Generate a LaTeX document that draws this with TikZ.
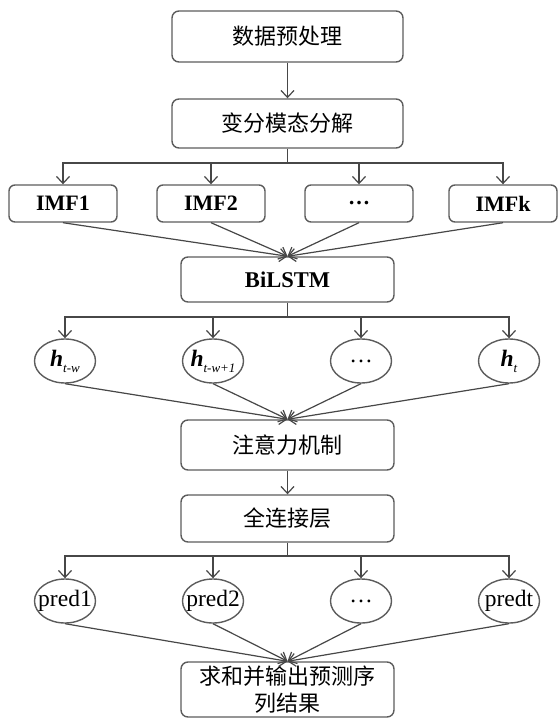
\documentclass[tikz,border=0pt]{standalone}
\usepackage{fontspec}
\setmainfont{Liberation Serif}
\newfontfamily\cjk{Noto Sans CJK SC}
\usetikzlibrary{arrows.meta,shapes.geometric}

\definecolor{linegray}{HTML}{474747}
\definecolor{boxgray}{HTML}{5C5C5C}

\tikzset{
  procbox/.style={draw=boxgray, line width=1.4pt, rounded corners=7pt,
    minimum width=213pt, minimum height=47pt, inner sep=1pt, align=center,
    font=\cjk\fontsize{22}{27}\selectfont},
  imfbox/.style={draw=boxgray, line width=1.4pt, rounded corners=6pt,
    minimum width=108pt, minimum height=37pt, inner sep=0pt,
    font=\bfseries\fontsize{22}{24}\selectfont},
  hnode/.style={draw=boxgray, line width=1.4pt, ellipse,
    minimum width=61pt, minimum height=44pt, inner sep=0pt,
    font=\fontsize{23.5}{24}\selectfont},
  conn/.style={draw=linegray, line width=1.2pt},
}

\begin{document}
\begin{tikzpicture}[x=1pt, y=1pt, >={Straight Barb[length=7pt,width=13pt]}]
    \useasboundingbox (0,0) rectangle (558,-719);

    % Preprocessing and decomposition
    \node (prep) [procbox, minimum width=231pt, minimum height=51pt] at (287.5,-36.5) {数据预处理};
    \node (vmd) [procbox, minimum width=231pt, minimum height=49pt] at (287.5,-123.5) {变分模态分解};
    \coordinate (split1) at (287.5,-163);

    % IMF components
    \node (imf1) [imfbox] at (63,-203.5) {IMF1};
    \node (imf2) [imfbox] at (211,-203.5) {IMF2};
    \node (imfd) [imfbox] at (359,-203.5) {…};
    \node (imfk) [imfbox] at (503,-203.5) {IMFk};

    % BiLSTM and hidden states
    \node (bilstm) [procbox, minimum height=45pt, font=\bfseries\fontsize{22.5}{24}\selectfont] at (287.5,-279.5) {BiLSTM};
    \coordinate (split2) at (287.5,-317);
    \node (h1) [hnode] at (65,-361) {\makebox[0pt]{{\bfseries\itshape h}\raisebox{-6pt}{\itshape\fontsize{13}{13}\selectfont t-w}}};
    \node (h2) [hnode] at (213,-361) {\makebox[0pt]{{\bfseries\itshape h}\raisebox{-6pt}{\itshape\fontsize{13}{13}\selectfont t-w+1}}};
    \node (hd) [hnode] at (361,-361) {\makebox[0pt]{…}};
    \node (ht) [hnode] at (509,-361) {\makebox[0pt]{{\bfseries\itshape h}\raisebox{-6pt}{\itshape\fontsize{13}{13}\selectfont t}}};

    % Attention and dense layer
    \node (att) [procbox, minimum height=50pt] at (287.5,-445) {注意力机制};
    \node (fc) [procbox] at (287.5,-518.5) {全连接层};
    \coordinate (split3) at (287.5,-556);

    % Predictions
    \node (p1) [hnode] at (65,-601) {\makebox[0pt]{pred1}};
    \node (p2) [hnode] at (213,-601) {\makebox[0pt]{pred2}};
    \node (pd) [hnode] at (361,-601) {\makebox[0pt]{…}};
    \node (pt) [hnode] at (509,-601) {\makebox[0pt]{predt}};
    \node (out) [procbox, minimum height=55pt, inner sep=0pt] at (287.5,-689.5) {求和并输出预测序\\列结果};

    % Arrows
    \draw[conn, ->] (prep) -- (vmd);
    \draw[conn] (vmd) -- (split1);
    \draw[conn, ->] (split1) -| (imf1.north);
    \draw[conn, ->] (split1) -| (imf2.north);
    \draw[conn, ->] (split1) -| (imfd.north);
    \draw[conn, ->] (split1) -| (imfk.north);
    \draw[conn, ->] (imf1.south) -- (bilstm.north);
    \draw[conn, ->] (imf2.south) -- (bilstm.north);
    \draw[conn, ->] (imfd.south) -- (bilstm.north);
    \draw[conn, ->] (imfk.south) -- (bilstm.north);
    \draw[conn] (bilstm) -- (split2);
    \draw[conn, ->] (split2) -| (h1.north);
    \draw[conn, ->] (split2) -| (h2.north);
    \draw[conn, ->] (split2) -| (hd.north);
    \draw[conn, ->] (split2) -| (ht.north);
    \draw[conn, ->] (h1.south) -- (att.north);
    \draw[conn, ->] (h2.south) -- (att.north);
    \draw[conn, ->] (hd.south) -- (att.north);
    \draw[conn, ->] (ht.south) -- (att.north);
    \draw[conn, ->] (att) -- (fc);
    \draw[conn] (fc) -- (split3);
    \draw[conn, ->] (split3) -| (p1.north);
    \draw[conn, ->] (split3) -| (p2.north);
    \draw[conn, ->] (split3) -| (pd.north);
    \draw[conn, ->] (split3) -| (pt.north);
    \draw[conn, ->] (p1.south) -- (out.north);
    \draw[conn, ->] (p2.south) -- (out.north);
    \draw[conn, ->] (pd.south) -- (out.north);
    \draw[conn, ->] (pt.south) -- (out.north);
\end{tikzpicture}
\end{document}
